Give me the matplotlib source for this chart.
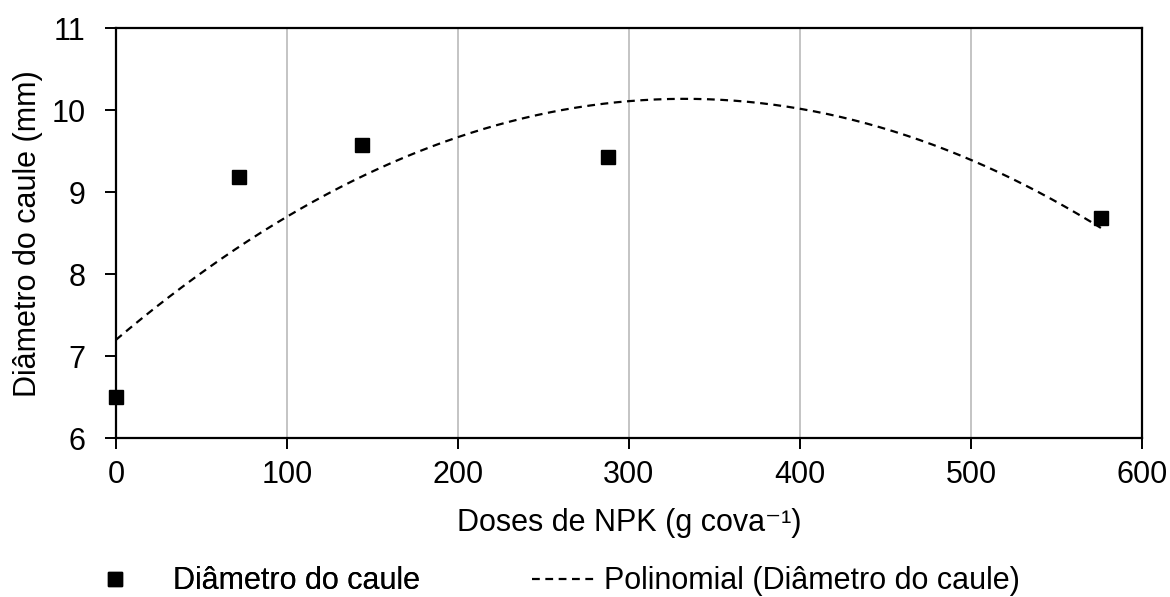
import numpy as np
import matplotlib.pyplot as plt

plt.rcParams['font.family'] = ['Liberation Sans', 'DejaVu Sans']

doses = [0, 72, 144, 288, 576]
diametro = [6.50, 9.18, 9.57, 9.43, 8.69]

# quadratic trend (Excel "Polinomial" order 2)
coef = np.polyfit(doses, diametro, 2)
xs = np.linspace(0, 576, 300)
ys = np.polyval(coef, xs)

fig = plt.figure(figsize=(11.7, 5.97), dpi=100)
ax = fig.add_axes([0.099, 0.266, 0.877, 0.687])

pts, = ax.plot(doses, diametro, 's', color='black', markersize=10,
               clip_on=False, zorder=4)
trend, = ax.plot(xs, ys, color='black', linewidth=1.6, linestyle=(0, (3.5, 2.5)))

ax.set_xlim(0, 600)
ax.set_ylim(6, 11)
ax.set_xticks(range(0, 601, 100))
ax.set_yticks(range(6, 12))
ax.grid(axis='x', color='#bfbfbf', linewidth=1.3)
ax.set_axisbelow(True)
for s in ax.spines.values():
    s.set_linewidth(1.6)
ax.tick_params(labelsize=22, length=8, width=1.4, direction='out')
ax.tick_params(axis='x', pad=8)
ax.tick_params(axis='y', pad=14)

ax.set_xlabel('Doses de NPK (g cova⁻¹)', fontsize=22, labelpad=13)
ax.set_ylabel('Diâmetro do caule (mm)', fontsize=22, labelpad=6)

# two separate legend entries along the bottom
leg1 = fig.legend([pts], ['Diâmetro do caule'], loc='center left',
                  bbox_to_anchor=(0.049, 0.026), frameon=False, fontsize=22,
                  handlelength=2, handletextpad=0.9)
fig.add_artist(leg1)
fig.legend([trend], ['Polinomial (Diâmetro do caule)'], loc='center left',
           bbox_to_anchor=(0.431, 0.026), frameon=False, fontsize=22,
           handlelength=2.1, handletextpad=0.25)

fig.savefig('out.png', dpi=100)
